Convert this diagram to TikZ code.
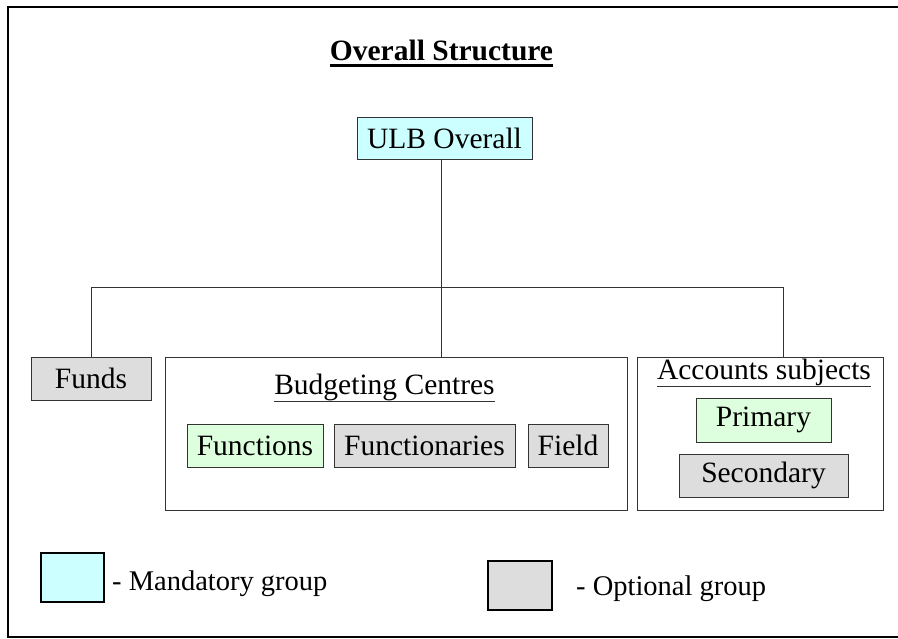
\documentclass[tikz,border=0pt]{standalone}
\usepackage{fontspec}
\setmainfont{Liberation Serif}
\definecolor{mandcol}{HTML}{CCFFFF}
\definecolor{primcol}{HTML}{DDFFDD}
\definecolor{optcol}{HTML}{DDDDDD}
\definecolor{linecol}{HTML}{333333}
\begin{document}
\begin{tikzpicture}[x=1pt,y=-1pt,
  boxsty/.style={draw=linecol,line width=0.9pt,inner sep=0pt,font=\fontsize{29.5}{33}\selectfont,text=black},
  mandbox/.style={boxsty,fill=mandcol},
  primbox/.style={boxsty,fill=primcol},
  optbox/.style={boxsty,fill=optcol},
  groupbox/.style={draw=linecol,line width=0.9pt,inner sep=0pt},
  lbl/.style={inner sep=0pt,anchor=base,font=\fontsize{29.5}{33}\selectfont},
  leglbl/.style={inner sep=0pt,anchor=base west,font=\fontsize{28.5}{32}\selectfont},
  conn/.style={draw=linecol,line width=0.9pt},
  uline/.style={draw=linecol,line width=0.9pt}
]
\useasboundingbox (0,0) rectangle (898,639);
% outer frame
\draw[line width=2pt,black] (899,7) -- (8,7) -- (8,637) -- (899,637);

% title
\node[inner sep=0pt,anchor=base,font=\fontsize{29.5}{33}\selectfont\bfseries] (title) at (441.5,61) {Overall Structure};
\draw[line width=2.5pt,black] ([yshift=-4.5pt]title.base west) -- ([yshift=-4.5pt]title.base east);

% top node
\node[mandbox,minimum width=175pt,minimum height=42pt] (ulb) at (444.5,138) {ULB Overall};

% second level
\node[optbox,minimum width=120pt,minimum height=43pt] (funds) at (91,378.5) {Funds};
\node[groupbox,minimum width=462pt,minimum height=153pt] (budget) at (396,433.5) {};
\node[groupbox,minimum width=246pt,minimum height=153pt] (accounts) at (760,433.5) {};

% budgeting centres
\node[lbl] (budgetlbl) at (384.5,395) {Budgeting Centres};
\draw[uline] ([yshift=-6pt]budgetlbl.base west) -- ([yshift=-6pt]budgetlbl.base east);
\node[primbox,minimum width=136pt,minimum height=43pt] (functions) at (255,445.5) {Functions};
\node[optbox,minimum width=181pt,minimum height=43pt] (functionaries) at (424.5,445.5) {Functionaries};
\node[optbox,minimum width=80pt,minimum height=43pt] (field) at (568,445.5) {Field};

% accounts subjects
\node[lbl] (acclbl) at (764,380) {Accounts subjects};
\draw[uline] ([yshift=-6pt]acclbl.base west) -- ([yshift=-6pt]acclbl.base east);
\node[primbox,minimum width=135pt,minimum height=44pt] (primary) at (763.5,420) {Primary};
\node[optbox,minimum width=169pt,minimum height=43pt] (secondary) at (763.5,475.5) {Secondary};

% connectors
\coordinate (j) at (441,287);
\coordinate (jl) at (91,287);
\coordinate (jr) at (783,287);
\draw[conn] (ulb.south -| j) -- (j);
\draw[conn] (jl) -- (jr);
\draw[conn] (jl) -- (funds.north);
\draw[conn] (j) -- (j |- budget.north);
\draw[conn] (jr) -- (jr |- accounts.north);

% legend
\node[draw=black,line width=1.3pt,fill=mandcol,minimum width=63pt,minimum height=49pt,inner sep=0pt] (legm) at (72.5,577.5) {};
\node[leglbl] (legmtxt) at (112,590) {- Mandatory group};
\node[draw=black,line width=1.3pt,fill=optcol,minimum width=64pt,minimum height=49pt,inner sep=0pt] (lego) at (520,585.5) {};
\node[leglbl] (legotxt) at (576,595) {- Optional group};
\end{tikzpicture}
\end{document}
